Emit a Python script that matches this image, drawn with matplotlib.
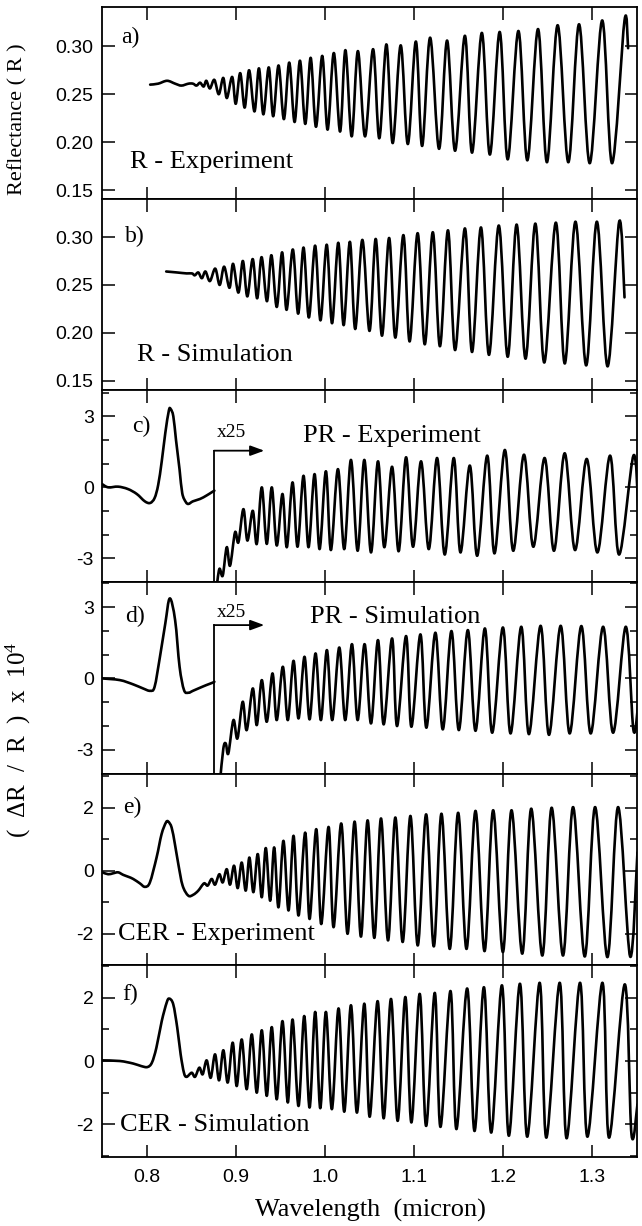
import numpy as np
import matplotlib.pyplot as plt
from matplotlib.path import Path
from matplotlib.patches import PathPatch
from matplotlib.ticker import MultipleLocator, FormatStrFormatter

plt.rcParams['font.family'] = ['Liberation Sans', 'DejaVu Sans']
plt.rcParams['axes.unicode_minus'] = False
plt.rcParams['mathtext.fontset'] = 'custom'
plt.rcParams['mathtext.rm'] = 'Liberation Serif'
plt.rcParams['mathtext.default'] = 'rm'
SERIF = 'Liberation Serif'

# knots / extrema, wavelength in micron
# a) R - Experiment
a_x = [0.804, 0.813, 0.823, 0.832, 0.839, 0.847, 0.852, 0.856, 0.860, 0.864,
       0.867, 0.871, 0.876, 0.881, 0.886, 0.890, 0.896, 0.900, 0.905, 0.910,
       0.915, 0.921, 0.926, 0.931, 0.937, 0.942, 0.948, 0.954, 0.960, 0.966,
       0.972, 0.978, 0.984, 0.990, 0.997, 1.003, 1.010, 1.017, 1.023, 1.030,
       1.037, 1.045, 1.054, 1.061, 1.069, 1.076, 1.085, 1.093, 1.102, 1.109,
       1.118, 1.128, 1.137, 1.146, 1.157, 1.165, 1.176, 1.185, 1.196, 1.205,
       1.217, 1.227, 1.239, 1.249, 1.261, 1.273, 1.285, 1.297, 1.311, 1.322,
       1.336, 1.340]
a_y = [0.260, 0.261, 0.264, 0.261, 0.259, 0.261, 0.261, 0.259, 0.262, 0.258,
       0.264, 0.256, 0.265, 0.250, 0.267, 0.246, 0.268, 0.240, 0.272, 0.236,
       0.275, 0.232, 0.277, 0.229, 0.278, 0.227, 0.280, 0.224, 0.283, 0.221,
       0.285, 0.219, 0.288, 0.216, 0.290, 0.213, 0.293, 0.211, 0.296, 0.206,
       0.295, 0.206, 0.297, 0.204, 0.302, 0.199, 0.301, 0.198, 0.305, 0.196,
       0.309, 0.193, 0.306, 0.191, 0.311, 0.189, 0.314, 0.187, 0.315, 0.182,
       0.316, 0.181, 0.318, 0.179, 0.322, 0.179, 0.323, 0.178, 0.327, 0.178,
       0.327, 0.298]

# b) R - Simulation
b_x = [0.822, 0.834, 0.845, 0.851, 0.854, 0.858, 0.862, 0.866, 0.871, 0.877,
       0.882, 0.887, 0.893, 0.897, 0.903, 0.908, 0.913, 0.919, 0.924, 0.929,
       0.935, 0.940, 0.946, 0.952, 0.957, 0.964, 0.970, 0.976, 0.982, 0.989,
       0.995, 1.002, 1.008, 1.015, 1.021, 1.028, 1.034, 1.042, 1.050, 1.057,
       1.064, 1.072, 1.079, 1.088, 1.095, 1.104, 1.112, 1.121, 1.129, 1.138,
       1.146, 1.157, 1.165, 1.175, 1.184, 1.195, 1.205, 1.215, 1.225, 1.236,
       1.246, 1.259, 1.269, 1.281, 1.293, 1.305, 1.317, 1.330, 1.336]
b_y = [0.264, 0.263, 0.262, 0.262, 0.260, 0.263, 0.257, 0.264, 0.254, 0.267,
       0.250, 0.269, 0.247, 0.272, 0.242, 0.275, 0.238, 0.277, 0.236, 0.279,
       0.233, 0.281, 0.227, 0.284, 0.224, 0.287, 0.220, 0.289, 0.216, 0.291,
       0.213, 0.292, 0.210, 0.294, 0.208, 0.295, 0.204, 0.297, 0.202, 0.298,
       0.197, 0.299, 0.195, 0.302, 0.191, 0.304, 0.188, 0.305, 0.186, 0.307,
       0.182, 0.309, 0.180, 0.310, 0.177, 0.312, 0.175, 0.313, 0.173, 0.314,
       0.169, 0.315, 0.168, 0.316, 0.166, 0.316, 0.165, 0.316, 0.237]

# c) PR - Experiment: unscaled part, then the x25 part
c1_x = [0.750, 0.757, 0.768, 0.779, 0.789, 0.798, 0.804, 0.809, 0.813, 0.817,
        0.821, 0.825, 0.827, 0.830, 0.833, 0.837, 0.840, 0.844, 0.847, 0.852,
        0.860, 0.867, 0.873, 0.876]
c1_y = [0.14, 0.00, 0.03, -0.07, -0.28, -0.59, -0.66, -0.45, 0.10, 1.10,
        2.30, 3.25, 3.31, 3.00, 2.00, 0.75, -0.25, -0.62, -0.70, -0.59,
        -0.49, -0.35, -0.21, -0.14]
c2_x = [0.878, 0.8816, 0.8854, 0.8899, 0.8936, 0.8992, 0.9030, 0.9086, 0.9131, 0.9191,
        0.9236, 0.9292, 0.9348, 0.9404, 0.9460, 0.9524, 0.9573, 0.9637, 0.9693, 0.9760,
        0.9816, 0.9884, 0.9940, 1.0011, 1.0067, 1.0146, 1.0217, 1.0292, 1.0367, 1.0442,
        1.0517, 1.0595, 1.0666, 1.0753, 1.0827, 1.0910, 1.0988, 1.1078, 1.1165, 1.1258,
        1.1344, 1.1445, 1.1520, 1.1625, 1.1708, 1.1820, 1.1902, 1.2018, 1.2112, 1.2232,
        1.2337, 1.2464, 1.2569, 1.2689, 1.2805, 1.2936, 1.3056, 1.3198, 1.3299, 1.3460,
        1.3516]
c2_y = [-4.40, -3.45, -3.73, -2.53, -3.31, -1.90, -2.32, -0.92, -2.25, -0.99,
        -2.39, 0.00, -2.39, 0.00, -2.46, -0.28, -2.53, 0.21, -2.51, 0.49,
        -2.53, 0.56, -2.61, 0.68, -2.65, 0.77, -2.61, 1.16, -2.68, 1.16,
        -2.75, 1.10, -2.53, 0.87, -2.70, 1.27, -2.51, 1.10, -2.61, 1.24,
        -2.84, 1.24, -2.75, 0.92, -2.89, 1.34, -2.79, 1.58, -2.68, 1.38,
        -2.51, 1.24, -2.68, 1.44, -2.65, 1.20, -2.75, 1.34, -2.84, 1.34,
        -0.99]

# d) PR - Simulation
d1_x = [0.750, 0.770, 0.785, 0.796, 0.804, 0.809, 0.815, 0.821, 0.826, 0.832,
        0.837, 0.842, 0.847, 0.852, 0.860, 0.867, 0.874, 0.876]
d1_y = [0.00, -0.07, -0.25, -0.42, -0.52, -0.35, 0.91, 2.31, 3.36, 2.45,
        0.49, -0.49, -0.60, -0.52, -0.39, -0.28, -0.18, -0.14]
d2_x = [0.8824, 0.8861, 0.8888, 0.8917, 0.8974, 0.9019, 0.9078, 0.9123, 0.9191, 0.9236,
        0.9292, 0.9348, 0.9412, 0.9460, 0.9528, 0.9584, 0.9648, 0.9704, 0.9771, 0.9828,
        0.9895, 0.9955, 1.0022, 1.0082, 1.0161, 1.0228, 1.0303, 1.0367, 1.0445, 1.0517,
        1.0595, 1.0659, 1.0753, 1.0809, 1.0910, 1.0970, 1.1071, 1.1138, 1.1239, 1.1322,
        1.1419, 1.1502, 1.1603, 1.1689, 1.1794, 1.1876, 1.1996, 1.2082, 1.2202, 1.2288,
        1.2419, 1.2513, 1.2644, 1.2745, 1.2876, 1.2981, 1.3120, 1.3232, 1.3374, 1.3460,
        1.3516]
d2_y = [-4.30, -2.94, -2.73, -3.15, -1.75, -2.52, -0.98, -2.17, -0.42, -1.96,
        -0.07, -1.82, 0.21, -1.75, 0.49, -1.75, 0.74, -1.68, 0.91, -1.72,
        1.05, -1.75, 1.19, -1.75, 1.30, -1.75, 1.44, -1.75, 1.44, -1.89,
        1.61, -1.93, 1.68, -2.00, 1.78, -2.03, 1.85, -2.07, 1.92, -2.14,
        1.99, -2.17, 2.03, -2.20, 2.10, -2.28, 2.14, -2.31, 2.17, -2.34,
        2.21, -2.37, 2.21, -2.31, 2.20, -2.31, 2.17, -2.28, 2.17, -2.17,
        -0.98]

# e) CER - Experiment
e_x = [0.7505, 0.7569, 0.7625, 0.7681, 0.7738, 0.7794, 0.7850, 0.7925, 0.7981, 0.8037,
       0.8112, 0.8168, 0.8217, 0.8243, 0.8281, 0.8318, 0.8356, 0.8404, 0.8468, 0.8524,
       0.8580, 0.8644, 0.8685, 0.8730, 0.8768, 0.8816, 0.8854, 0.8899, 0.8936, 0.8981,
       0.9022, 0.9067, 0.9112, 0.9153, 0.9198, 0.9247, 0.9292, 0.9337, 0.9386, 0.9431,
       0.9479, 0.9535, 0.9592, 0.9648, 0.9704, 0.9779, 0.9828, 0.9903, 0.9959, 1.0041,
       1.0097, 1.0183, 1.0254, 1.0333, 1.0404, 1.0479, 1.0554, 1.0629, 1.0708, 1.0790,
       1.0872, 1.0959, 1.1041, 1.1135, 1.1221, 1.1307, 1.1400, 1.1494, 1.1588, 1.1689,
       1.1790, 1.1887, 1.1996, 1.2093, 1.2213, 1.2314, 1.2438, 1.2543, 1.2670, 1.2783,
       1.2914, 1.3030, 1.3168, 1.3288, 1.3423, 1.3505]
e_y = [-0.05, -0.11, -0.08, -0.05, -0.13, -0.19, -0.26, -0.40, -0.51, -0.37,
       0.42, 1.16, 1.53, 1.56, 1.37, 0.84, 0.21, -0.47, -0.79, -0.76,
       -0.63, -0.40, -0.47, -0.26, -0.44, -0.11, -0.37, 0.05, -0.44, 0.16,
       -0.55, 0.26, -0.63, 0.42, -0.68, 0.53, -0.84, 0.72, -0.95, 0.74,
       -1.16, 0.95, -1.26, 1.11, -1.42, 1.21, -1.53, 1.32, -1.69, 1.39,
       -1.79, 1.50, -2.00, 1.56, -2.09, 1.60, -2.13, 1.66, -2.21, 1.69,
       -2.26, 1.74, -2.37, 1.79, -2.40, 1.81, -2.48, 1.84, -2.48, 1.90,
       -2.55, 1.92, -2.58, 1.92, -2.63, 1.97, -2.69, 2.00, -2.69, 2.02,
       -2.72, 2.02, -2.74, 2.02, -2.72, 0.58]

# f) CER - Simulation
f_x = [0.750, 0.770, 0.785, 0.794, 0.801, 0.806, 0.811, 0.817, 0.8225, 0.8254,
       0.8299, 0.8344, 0.8382, 0.8419, 0.8449, 0.8506, 0.8543, 0.8592, 0.8629, 0.8674,
       0.8719, 0.8768, 0.8813, 0.8861, 0.8910, 0.8966, 0.9011, 0.9067, 0.9123, 0.9180,
       0.9236, 0.9292, 0.9348, 0.9404, 0.9460, 0.9524, 0.9584, 0.9637, 0.9704, 0.9768,
       0.9828, 0.9891, 0.9948, 1.0011, 1.0078, 1.0153, 1.0217, 1.0292, 1.0359, 1.0442,
       1.0502, 1.0591, 1.0659, 1.0741, 1.0816, 1.0902, 1.0970, 1.1063, 1.1135, 1.1232,
       1.1296, 1.1408, 1.1475, 1.1595, 1.1678, 1.1783, 1.1865, 1.1985, 1.2063, 1.2187,
       1.2269, 1.2408, 1.2483, 1.2633, 1.2711, 1.2861, 1.2944, 1.3112, 1.3187, 1.3363,
       1.3438, 1.3505]
f_y = [0.02, 0.00, -0.08, -0.16, -0.19, -0.05, 0.42, 1.26, 1.84, 1.97,
       1.79, 1.05, 0.21, -0.37, -0.50, -0.37, -0.50, -0.21, -0.42, 0.02,
       -0.53, 0.21, -0.61, 0.34, -0.68, 0.58, -0.79, 0.68, -0.89, 0.84,
       -1.00, 0.97, -1.10, 1.07, -1.21, 1.26, -1.31, 1.31, -1.42, 1.42,
       -1.47, 1.55, -1.49, 1.55, -1.52, 1.66, -1.60, 1.76, -1.63, 1.81,
       -1.76, 1.89, -1.81, 1.96, -1.89, 2.02, -1.94, 2.12, -2.05, 2.15,
       -2.08, 2.21, -2.15, 2.29, -2.21, 2.33, -2.26, 2.39, -2.36, 2.44,
       -2.39, 2.47, -2.42, 2.47, -2.44, 2.47, -2.39, 2.47, -2.42, 2.42,
       -2.31, -1.37]

panel_tags = ['a)', 'b)', 'c)', 'd)', 'e)', 'f)']
panel_names = ['R - Experiment', 'R - Simulation', 'PR - Experiment',
               'PR - Simulation', 'CER - Experiment', 'CER - Simulation']
x_ticks = [0.8, 0.9, 1.0, 1.1, 1.2, 1.3]
pr_jump = 0.8756          # where the x25 magnification starts
pr_arrow_end = 0.932


def smooth_path(xs, ys):
    # Catmull-Rom through the read knots, drawn as cubic Bezier segments
    p = np.column_stack([xs, ys]).astype(float)
    n = len(p)
    verts = [p[0]]
    codes = [Path.MOVETO]
    for i in range(n - 1):
        p0 = p[i - 1] if i > 0 else p[i]
        p3 = p[i + 2] if i + 2 < n else p[i + 1]
        verts += [p[i] + (p[i + 1] - p0) / 6, p[i + 1] - (p3 - p[i]) / 6, p[i + 1]]
        codes += [Path.CURVE4] * 3
    return Path(verts, codes)


def draw(ax, xs, ys, lw=1.9):
    ax.add_patch(PathPatch(smooth_path(xs, ys), fill=False, ec='black', lw=lw,
                           joinstyle='round', capstyle='round'))


fig, axes = plt.subplots(6, 1, figsize=(6.42, 12.26), dpi=100, sharex=True,
                         gridspec_kw=dict(hspace=0))
fig.subplots_adjust(left=102 / 642, right=637 / 642, top=1 - 7 / 1226, bottom=1 - 1157 / 1226)

curves = [[(a_x, a_y)], [(b_x, b_y)], [(c1_x, c1_y), (c2_x, c2_y)],
          [(d1_x, d1_y), (d2_x, d2_y)], [(e_x, e_y)], [(f_x, f_y)]]
ylims = [(0.141, 0.341), (0.140, 0.340), (-4.0, 4.1), (-4.0, 4.05), (-3.0, 3.08), (-3.03, 3.02)]

for i, ax in enumerate(axes):
    for xs, ys in curves[i]:
        draw(ax, xs, ys)
    ax.set_xlim(0.75, 1.35)
    ax.set_ylim(*ylims[i])
    ax.set_xticks(x_ticks)
    ax.tick_params(which='both', direction='in', top=True, right=True, width=1.1,
                   labelsize=14, pad=6)
    ax.tick_params(which='major', length=9)
    ax.tick_params(which='minor', length=5)
    for s in ax.spines.values():
        s.set_linewidth(1.3)
    if i < 2:
        ax.set_yticks([0.15, 0.20, 0.25, 0.30])
        ax.yaxis.set_major_formatter(FormatStrFormatter('%.2f'))
    elif i < 4:
        ax.set_yticks([-3, 0, 3])
        ax.yaxis.set_minor_locator(MultipleLocator(1))
    else:
        ax.set_yticks([-2, 0, 2])
        ax.yaxis.set_minor_locator(MultipleLocator(1))

axes[-1].xaxis.set_major_formatter(FormatStrFormatter('%.1f'))
axes[-1].tick_params(axis='x', pad=9)

# panel tags and names (data coordinates)
tag_pos = [(0.772, 0.3035), (0.776, 0.2948), (0.784, 2.32), (0.776, 2.38), (0.774, 1.84), (0.773, 1.94)]
name_pos = [(0.781, 0.173), (0.7895, 0.171), (0.975, 1.90), (0.983, 2.34), (0.768, -2.21), (0.770, -2.20)]
for ax, t, tp, nm, npos in zip(axes, panel_tags, tag_pos, panel_names, name_pos):
    ax.text(tp[0], tp[1], t, family=SERIF, fontsize=17, va='baseline')
    ax.text(npos[0], npos[1], nm, family=SERIF, fontsize=19, va='baseline')

# x25 markers in the PR panels
for ax, y_arr, y_txt in [(axes[2], 1.55, 2.11), (axes[3], 2.24, 2.59)]:
    ax.plot([pr_jump, pr_jump], [y_arr, -4.5], color='black', lw=1.3)
    ax.annotate('', xy=(pr_arrow_end, y_arr), xytext=(pr_jump, y_arr),
                arrowprops=dict(arrowstyle='-|>,head_length=0.6,head_width=0.22',
                                color='black', lw=1.3, shrinkA=0, shrinkB=0,
                                mutation_scale=14))
    ax.text(0.8786, y_txt, 'x25', family=SERIF, fontsize=14, va='baseline')

fig.text(18 / 642, 1 - 119 / 1226, 'Reflectance ( R )', family=SERIF, fontsize=16,
         rotation=90, ha='center', va='center')
fig.text(18 / 642, 1 - 740 / 1226, '(  ΔR  /  R  )  x  10$^{4}$', family=SERIF, fontsize=18,
         rotation=90, ha='center', va='center')
fig.text(370 / 642, 1 - 1210 / 1226, 'Wavelength  (micron)', family=SERIF, fontsize=19,
         ha='center', va='center')

fig.savefig('out.png', dpi=100)
